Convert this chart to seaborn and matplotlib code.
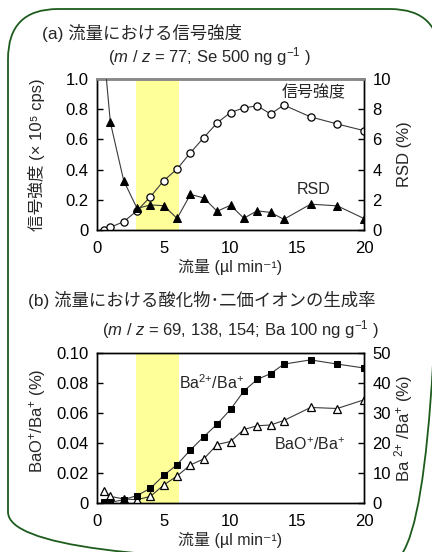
import matplotlib
matplotlib.use("Agg")
import matplotlib.pyplot as plt
import seaborn as sns
import numpy as np
import pandas as pd
from matplotlib.patches import FancyBboxPatch

sns.set_style("white")
plt.rcParams['font.family'] = ['Liberation Sans', 'Noto Sans CJK JP', 'DejaVu Sans']
plt.rcParams['mathtext.fontset'] = 'custom'
plt.rcParams['mathtext.rm'] = 'Liberation Sans'
plt.rcParams['mathtext.it'] = 'Liberation Sans:italic'
plt.rcParams['mathtext.default'] = 'regular'

# ---- data (a) ----
flow_sig = [0.5, 1, 2, 3, 4, 5, 6, 7, 8, 9, 10, 11, 12, 13, 14, 16, 18, 20]
signal = [0.0, 0.018, 0.055, 0.128, 0.22, 0.327, 0.404, 0.512, 0.612, 0.71,
          0.778, 0.809, 0.822, 0.769, 0.827, 0.749, 0.702, 0.658]
flow_rsd = [0.5, 1, 2, 3, 4, 5, 6, 7, 8, 9, 10, 11, 12, 13, 14, 16, 18, 20]
rsd = [12.0, 7.13, 3.27, 1.43, 1.66, 1.61, 0.77, 2.36, 2.12, 1.24,
       1.64, 0.78, 1.27, 1.16, 0.71, 1.71, 1.6, 0.76]

# ---- data (b) ----
flow_b = [0.5, 1, 2, 3, 4, 5, 6, 7, 8, 9, 10, 11, 12, 13, 14, 16, 18, 20]
ba2 = [0.2, 0.2, 1.1, 2.5, 4.9, 9.2, 12.8, 17.7, 22.1, 26.3,
       31.2, 37.3, 41.2, 43.1, 46.3, 47.7, 46.3, 45.0]
bao = [0.0082, 0.0044, 0.0027, 0.0022, 0.0044, 0.012, 0.018, 0.0254, 0.0294, 0.039,
       0.041, 0.049, 0.0515, 0.052, 0.055, 0.0637, 0.063, 0.0688]

band = [2.9, 6.15]
xticks = [0, 5, 10, 15, 20]
a_left_ticks = [0, 0.2, 0.4, 0.6, 0.8, 1.0]
a_left_labels = ['0', '0.2', '0.4', '0.6', '0.8', '1.0']
a_right_ticks = [0, 2, 4, 6, 8, 10]
b_left_ticks = [0, 0.02, 0.04, 0.06, 0.08, 0.10]
b_left_labels = ['0', '0.02', '0.04', '0.06', '0.08', '0.10']
b_right_ticks = [0, 10, 20, 30, 40, 50]

W, H = 432, 552
fig = plt.figure(figsize=(W / 100, H / 100), dpi=100, facecolor='white')

# frame
bg = fig.add_axes([0, 0, 1, 1], zorder=-5)
bg.set_xlim(0, W)
bg.set_ylim(H, 0)
bg.axis('off')
bg.add_patch(FancyBboxPatch((8, 9), 432, 553, boxstyle="round,pad=0,rounding_size=50",
                            fill=False, edgecolor='#1d5c1d', linewidth=1.3))

def fx(px):
    return px / W

def fy(py):
    return 1 - py / H

TICK_FS = 12
LAB_FS = 11.5
LINE_C = '#3a3a3a'
AXW = fx(364) - fx(97)

def style_axes(ax, ax2):
    for a in (ax, ax2):
        for s in a.spines.values():
            s.set_color('black')
            s.set_linewidth(1.0)
        a.tick_params(direction='in', length=4, width=1, labelsize=TICK_FS, colors='black', pad=6)
    ax.tick_params(axis='x', pad=8)
    ax.set_xlim(0, 20)
    ax.set_xticks(xticks)
    ax.set_xticklabels([str(t) for t in xticks])
    ax.set_xlabel('流量 (µl min⁻¹)', fontsize=LAB_FS, labelpad=2)

# ----- panel (a) -----
axA = fig.add_axes([fx(97), fy(230), AXW, fy(79) - fy(230)])
axA.set_facecolor('white')
axA.axvspan(band[0], band[1], color='#ffff99', zorder=0, lw=0)
axA2 = axA.twinx()
sns.lineplot(x=flow_sig, y=signal, ax=axA, color=LINE_C, linewidth=0.8, marker='o',
             markersize=5.2, markerfacecolor='white', markeredgecolor='black',
             markeredgewidth=0.9, zorder=3)
sns.lineplot(x=flow_rsd, y=rsd, ax=axA2, color=LINE_C, linewidth=0.8, marker='^',
             markersize=5.5, markerfacecolor='black', markeredgecolor='black', zorder=3)
axA.set_ylim(0, 1.0)
axA.set_yticks(a_left_ticks)
axA.set_yticklabels(a_left_labels)
axA2.set_ylim(0, 10)
axA2.set_yticks(a_right_ticks)
axA2.set_yticklabels([str(t) for t in a_right_ticks])
style_axes(axA, axA2)
for a in (axA, axA2):
    a.spines['top'].set_color('#888888')
    a.spines['top'].set_linewidth(1.8)
axA.set_ylabel('信号強度 (× 10⁵ cps)', fontsize=12)
axA2.set_ylabel('RSD (%)', fontsize=12)
for lab in (axA.yaxis.label, axA2.yaxis.label):
    lab.set_rotation_mode('anchor')
    lab.set_va('center')
    lab.set_ha('center')
axA.yaxis.set_label_coords(fx(37 - 97) / AXW, 0.5)
axA2.yaxis.set_label_coords(fx(405 - 97) / AXW, 0.5)
axA2.text(16.2, 9.07, '信号強度', ha='center', va='center', fontsize=LAB_FS)
axA2.text(16.2, 2.65, 'RSD', ha='center', va='center', fontsize=LAB_FS)

fig.text(fx(42), fy(33), '(a) 流量における信号強度', ha='left', va='center', fontsize=12.5)
fig.text(fx(209), fy(57), r'($\mathit{m}$ / $\mathit{z}$ = 77; Se 500 ng g$^{-1}$ )',
         ha='center', va='center', fontsize=12)

# ----- panel (b) -----
axB = fig.add_axes([fx(97), fy(503), AXW, fy(353) - fy(503)])
axB.set_facecolor('white')
axB.axvspan(band[0], band[1], color='#ffff99', zorder=0, lw=0)
axB2 = axB.twinx()
sns.lineplot(x=flow_b, y=bao, ax=axB, color=LINE_C, linewidth=0.8, marker='^',
             markersize=5.8, markerfacecolor='white', markeredgecolor='black',
             markeredgewidth=0.9, zorder=3)
sns.lineplot(x=flow_b, y=ba2, ax=axB2, color=LINE_C, linewidth=0.8, marker='s',
             markersize=4.6, markerfacecolor='black', markeredgecolor='black', zorder=3)
axB.set_ylim(0, 0.10)
axB.set_yticks(b_left_ticks)
axB.set_yticklabels(b_left_labels)
axB2.set_ylim(0, 50)
axB2.set_yticks(b_right_ticks)
axB2.set_yticklabels([str(t) for t in b_right_ticks])
style_axes(axB, axB2)
axB.set_ylabel(r'BaO$^{+}$/Ba$^{+}$ (%)', fontsize=12)
axB2.set_ylabel(r'Ba $^{2{+}}$ /Ba$^{+}$ (%)', fontsize=12)
for lab in (axB.yaxis.label, axB2.yaxis.label):
    lab.set_rotation_mode('anchor')
    lab.set_va('center')
    lab.set_ha('center')
axB.yaxis.set_label_coords(fx(37 - 97) / AXW, 0.55)
axB2.yaxis.set_label_coords(fx(404 - 97) / AXW, 0.5)
axB.text(8.6, 0.080, r'Ba$^{2{+}}$/Ba$^{+}$', ha='center', va='center', fontsize=LAB_FS)
axB.text(15.9, 0.0387, r'BaO$^{+}$/Ba$^{+}$', ha='center', va='center', fontsize=LAB_FS)

fig.text(fx(28), fy(300), '(b) 流量における酸化物･二価イオンの生成率', ha='left', va='center', fontsize=12.5)
fig.text(fx(240), fy(330), r'($\mathit{m}$ / $\mathit{z}$ = 69, 138, 154; Ba 100 ng g$^{-1}$ )',
         ha='center', va='center', fontsize=12)

fig.savefig('out.png', dpi=100, facecolor='white')
